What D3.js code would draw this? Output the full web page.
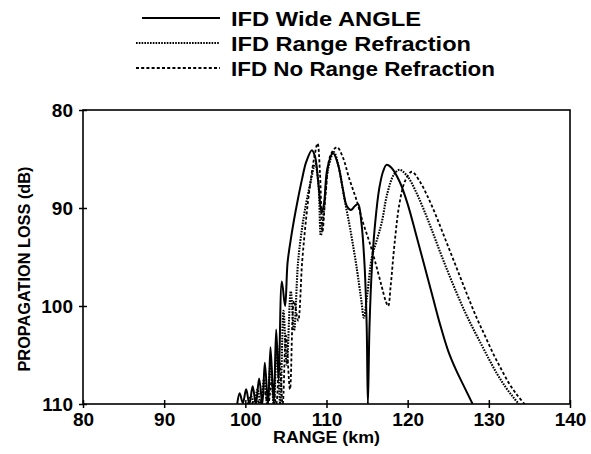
<!DOCTYPE html>
<html>
<head>
<meta charset="utf-8">
<script src="https://cdn.jsdelivr.net/npm/d3@7"></script>
<style>
  body { margin: 0; background: #fff; }
  text { font-family: "Liberation Sans", Arial, sans-serif; font-weight: bold; fill: #000; }
</style>
</head>
<body>
<svg id="chart" width="591" height="454"></svg>
<script>
// Tick values
const xTicks = [80, 90, 100, 110, 120, 130, 140];
const yTicks = [80, 90, 100, 110];

// Series: [range km, loss dB]
const wideAngle = [
  [99.0,110],[99.3,108.9],[99.7,109.9],[100.1,108.5],[100.5,110],[100.9,108.2],[101.3,110],
  [101.7,107.4],[102.1,110],[102.4,105.8],[102.8,110],[103.1,104.2],[103.5,110],[103.8,102.4],
  [104.1,107.5],[104.5,97.5],[104.9,100.0],[105.2,95.6],[105.6,93.2],[106.0,91.2],[106.5,89.0],
  [107.0,87.0],[107.5,85.3],[108.2,84.1],[108.6,84.8],[109.0,87.5],[109.4,90.5],[109.7,89.5],
  [110.1,86.0],[110.8,84.4],[111.4,85.5],[112.0,88.0],[112.5,89.8],[113.0,90.2],[113.5,89.8],
  [113.9,89.6],[114.3,91.5],[114.7,96.0],[114.95,102.0],[115.1,110],[115.3,102.0],[115.6,96.0],
  [116.0,91.5],[116.5,88.0],[117.0,86.2],[117.4,85.6],[118.0,85.9],[119.0,87.3],[120.0,89.6],
  [121.0,92.6],[122.0,95.7],[123.0,98.8],[124.0,101.9],[125.0,104.6],[126.0,106.6],[127.0,108.3],
  [128.0,110]
];
const rangeRefraction = [
  [100.3,110],[100.7,109.2],[101.1,110],[101.5,108.5],[101.9,110],[102.3,107.5],[102.7,110],
  [103.1,106],[103.5,110],[103.9,104],[104.3,110],[104.7,100.5],[105.1,106],[105.6,98.5],
  [106.0,102.5],[106.5,95.5],[107.0,92.0],[107.5,89.5],[108.0,87.5],[108.6,85.5],[109.0,87.5],
  [109.3,92.8],[109.7,90.0],[110.2,86.0],[110.9,84.3],[111.5,85.8],[112.2,89.0],[113.0,92.5],
  [113.7,96.0],[114.3,99.5],[114.6,101.2],[115.0,99.0],[115.6,95.0],[116.3,93.0],[116.8,91.5],
  [117.5,88.5],[118.3,86.6],[119.0,86.1],[120.0,86.8],[121.0,88.3],[122.0,90.2],[123.0,92.3],
  [124.0,94.5],[125.0,96.6],[126.0,98.6],[127.0,100.5],[128.0,102.2],[129.0,103.8],[130.0,105.4],
  [131.0,106.9],[132.0,108.2],[133.0,109.3],[133.7,110]
];
const noRangeRefraction = [
  [100.8,110],[101.3,109.4],[101.8,110],[102.3,108.6],[102.8,110],[103.3,107.5],[103.8,110],
  [104.2,105.5],[104.6,110],[105.0,103],[105.5,108.5],[106.0,99.5],[106.5,101.5],[107.0,95.5],
  [107.5,91.0],[108.0,87.5],[108.5,84.8],[108.9,83.4],[109.2,86.5],[109.5,92.4],[109.9,88.5],
  [110.5,84.6],[111.3,83.8],[112.0,84.8],[112.8,87.0],[113.7,89.2],[114.5,91.5],[115.3,93.5],
  [116.0,95.5],[116.8,98.0],[117.3,99.5],[117.6,100.0],[117.9,98.0],[118.4,93.5],[119.0,89.5],
  [119.7,87.2],[120.5,86.3],[121.5,87.3],[122.5,88.9],[123.5,90.8],[124.5,92.9],[125.5,95.0],
  [126.5,97.1],[127.5,99.2],[128.5,101.2],[129.5,103.0],[130.5,104.8],[131.5,106.4],[132.5,107.9],
  [133.5,109.1],[134.4,110]
];

const seriesNames = ["IFD Wide ANGLE", "IFD Range Refraction", "IFD No Range Refraction"];
const seriesData = [wideAngle, rangeRefraction, noRangeRefraction];
const seriesDash = [null, "1.6,1.2", "3,2.2"];
const seriesWidth = [2, 2.1, 1.8];

const svg = d3.select("#chart");
const margin = {left: 83, right: 21, top: 110, bottom: 50};
const width = +svg.attr("width"), height = +svg.attr("height");

const x = d3.scaleLinear().domain([80, 140]).range([margin.left, width - margin.right]);
const y = d3.scaleLinear().domain([80, 110]).range([margin.top, height - margin.bottom]);

// Frame
svg.append("rect")
  .attr("x", x(80)).attr("y", y(80))
  .attr("width", x(140) - x(80)).attr("height", y(110) - y(80))
  .attr("fill", "none").attr("stroke", "#000").attr("stroke-width", 1.6);

// Axes (ticks cross the frame)
const xAxis = svg.append("g")
  .attr("transform", `translate(0,${y(110)})`)
  .call(d3.axisBottom(x).tickValues(xTicks).tickSize(4).tickFormat(d3.format("d")));
const yAxis = svg.append("g")
  .attr("transform", `translate(${x(80)},0)`)
  .call(d3.axisLeft(y).tickValues(yTicks).tickSize(4).tickFormat(d3.format("d")));

[xAxis, yAxis].forEach(a => {
  a.select(".domain").remove();
  a.selectAll(".tick line").attr("stroke", "#000").attr("stroke-width", 1.5);
  a.selectAll("text").style("font-size", "19px").style("font-family", null);
});
xAxis.selectAll(".tick line").attr("y1", -4);
xAxis.selectAll("text").attr("dy", "0.45em").attr("y", 13);
yAxis.selectAll(".tick line").attr("x1", 4);
yAxis.selectAll("text").attr("x", -10);

// Axis titles
svg.append("text")
  .attr("x", x(110)).attr("y", 443)
  .attr("text-anchor", "middle")
  .attr("textLength", 107).attr("lengthAdjust", "spacingAndGlyphs")
  .style("font-size", "16px")
  .text("RANGE (km)");
svg.append("text")
  .attr("transform", `translate(30,${(y(80) + y(110)) / 2 + 12}) rotate(-90)`)
  .attr("text-anchor", "middle")
  .attr("textLength", 205).attr("lengthAdjust", "spacingAndGlyphs")
  .style("font-size", "16px")
  .text("PROPAGATION LOSS (dB)");

// Curves
const line = d3.line().x(d => x(d[0])).y(d => y(d[1])).curve(d3.curveCatmullRom.alpha(0.5));
const clip = svg.append("clipPath").attr("id", "plot-clip")
  .append("rect")
  .attr("x", x(80)).attr("y", y(80) - 2)
  .attr("width", x(140) - x(80)).attr("height", y(110) - y(80) + 2);
seriesData.forEach((s, i) => {
  svg.append("path")
    .datum(s)
    .attr("d", line)
    .attr("clip-path", "url(#plot-clip)")
    .attr("fill", "none")
    .attr("stroke", "#000")
    .attr("stroke-width", seriesWidth[i])
    .attr("stroke-dasharray", seriesDash[i])
    .attr("stroke-linejoin", "round");
});

// Legend
const legend = svg.append("g");
const legendY = [18, 43, 68];
const legendTextWidth = [190, 240, 264];
seriesNames.forEach((name, i) => {
  legend.append("line")
    .attr("x1", i === 0 ? 142 : 136).attr("x2", 220)
    .attr("y1", legendY[i]).attr("y2", legendY[i])
    .attr("stroke", "#000")
    .attr("stroke-width", seriesWidth[i])
    .attr("stroke-dasharray", seriesDash[i]);
  legend.append("text")
    .attr("x", 231).attr("y", legendY[i])
    .attr("dy", "0.36em")
    .attr("textLength", legendTextWidth[i]).attr("lengthAdjust", "spacingAndGlyphs")
    .style("font-size", "21px")
    .text(name);
});
</script>
</body>
</html>
